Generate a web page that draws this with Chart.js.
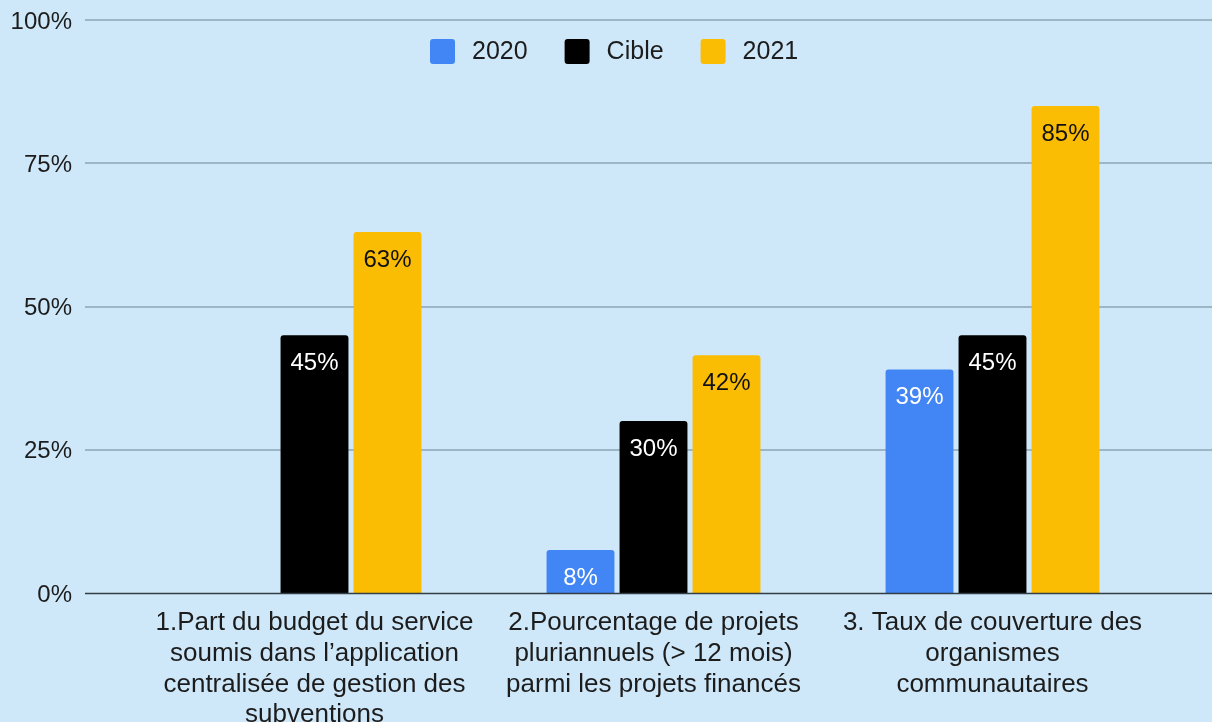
<!DOCTYPE html>
<html lang="fr">
<head>
<meta charset="utf-8">
<title>Indicateurs 2020 / Cible / 2021</title>
<script src="https://cdn.jsdelivr.net/npm/chart.js@4.4.1/dist/chart.umd.min.js"></script>
<style>
  html, body { margin: 0; padding: 0; background: #cfe8f9; }
  #wrap { width: 1212px; height: 722px; position: relative; }
</style>
</head>
<body>
<div id="wrap"><canvas id="chart"></canvas></div>
<script>
// categories (axe x, sur plusieurs lignes)
const categories = [
  ["1.Part du budget du service", "soumis dans l\u2019application", "centralisée de gestion des", "subventions"],
  ["2.Pourcentage de projets", "pluriannuels (> 12 mois)", "parmi les projets financés"],
  ["3. Taux de couverture des", "organismes", "communautaires"]
];
const seriesNames = ["2020", "Cible", "2021"];
// valeurs en %
const values2020 = [null, 7.5, 39];
const valuesCible = [45, 30, 45];
const values2021 = [63, 41.5, 85];
const yTicks = [0, 25, 50, 75, 100];

const colors = ["#4285f4", "#000000", "#fbbc04"];
const labelColors = ["#ffffff", "#ffffff", "#111111"];
const FONT = "'Liberation Sans', Arial, sans-serif";
const textColor = "#1c1c1c";

// rectangle arrondi pour la légende
function roundBox(ctx, x, y, w, h, r) {
  ctx.beginPath();
  ctx.moveTo(x + r, y);
  ctx.arcTo(x + w, y, x + w, y + h, r);
  ctx.arcTo(x + w, y + h, x, y + h, r);
  ctx.arcTo(x, y + h, x, y, r);
  ctx.arcTo(x, y, x + w, y, r);
  ctx.closePath();
  ctx.fill();
}

// grille sur toute la largeur, étiquettes, légende
const drawPlugin = {
  id: "fullGrid",
  beforeDatasetsDraw(chart) {
    const ctx = chart.ctx;
    const y = chart.scales.y;
    ctx.save();
    ctx.strokeStyle = "#9db5c4";
    ctx.lineWidth = 2;
    for (let v of yTicks) {
      if (v === 0) continue;
      const py = Math.round(y.getPixelForValue(v));
      ctx.beginPath();
      ctx.moveTo(85, py);
      ctx.lineTo(chart.width, py);
      ctx.stroke();
    }
    ctx.restore();
  },
  afterDatasetsDraw(chart) {
    const ctx = chart.ctx;
    const y = chart.scales.y;
    ctx.save();
    // ligne de base 0%
    const py = Math.round(y.getPixelForValue(0)) + 0.5;
    ctx.strokeStyle = "#333d44";
    ctx.lineWidth = 1.5;
    ctx.beginPath();
    ctx.moveTo(85, py);
    ctx.lineTo(chart.width, py);
    ctx.stroke();

    // étiquettes des barres
    ctx.font = "24px " + FONT;
    ctx.textAlign = "center";
    ctx.textBaseline = "middle";
    chart.data.datasets.forEach((ds, i) => {
      const meta = chart.getDatasetMeta(i);
      meta.data.forEach((bar, j) => {
        const v = ds.data[j];
        if (v === null || v === undefined) return;
        ctx.fillStyle = labelColors[i];
        ctx.fillText(Math.round(v) + "%", bar.x, bar.y + 28);
      });
    });

    // légende
    ctx.font = "25px " + FONT;
    ctx.textAlign = "left";
    let x = 430;
    const boxTop = chart.chartArea.top + 19;
    seriesNames.forEach((name, i) => {
      ctx.fillStyle = colors[i];
      roundBox(ctx, x, boxTop, 25, 25, 3);
      x += 25 + 17;
      ctx.fillStyle = textColor;
      ctx.fillText(name, x, boxTop + 13);
      x += ctx.measureText(name).width + 37;
    });
    ctx.restore();
  }
};

const datasets = [values2020, valuesCible, values2021].map((vals, i) => ({
  label: seriesNames[i],
  data: vals,
  backgroundColor: colors[i],
  borderWidth: 0,
  borderRadius: { topLeft: 3, topRight: 3, bottomLeft: 0, bottomRight: 0 },
  borderSkipped: "bottom",
  categoryPercentage: 0.646,
  barPercentage: 0.93
}));

new Chart(document.getElementById("chart"), {
  type: "bar",
  data: { labels: categories, datasets: datasets },
  plugins: [drawPlugin],
  options: {
    responsive: true,
    maintainAspectRatio: false,
    animation: false,
    layout: { padding: { top: 20, right: 50, bottom: 0, left: 0 } },
    plugins: {
      tooltip: { enabled: false },
      legend: { display: false }
    },
    scales: {
      x: {
        grid: { display: false },
        border: { display: false },
        ticks: {
          color: textColor,
          padding: 6,
          maxRotation: 0,
          autoSkip: false,
          font: { family: FONT, size: 26, lineHeight: 1.19 }
        },
        afterFit(scale) { scale.height = 129; }
      },
      y: {
        min: 0,
        max: 100,
        grid: { display: false },
        border: { display: false },
        afterBuildTicks(scale) { scale.ticks = yTicks.map(v => ({ value: v })); },
        ticks: {
          color: textColor,
          padding: 65,
          labelOffset: 2,
          font: { family: FONT, size: 24 },
          callback: (v) => v + "%"
        },
        afterFit(scale) {
          scale.width = 145;
          scale.paddingTop = 15;
          scale.paddingBottom = 15;
        }
      }
    }
  }
});
</script>
</body>
</html>
